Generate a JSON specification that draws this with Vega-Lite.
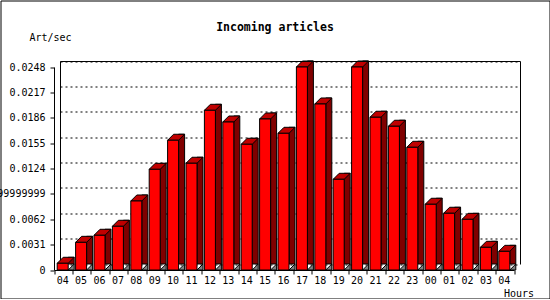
{
  "$schema": "https://vega.github.io/schema/vega-lite/v6.json",
  "width": 549,
  "height": 298,
  "autosize": {"type": "none"},
  "padding": 0.5,
  "background": "white",
  "title": {"text": "Incoming articles", "anchor": "middle", "frame": "group", "offset": 0, "baseline": "alphabetic", "dy": 42, "font": "DejaVu Sans Mono", "fontSize": 11.5, "fontWeight": "bold", "color": "black"},
  "config": {
    "view": {"stroke": "black", "strokeWidth": 1, "fill": "white"},
    "axis": {"labelFont": "DejaVu Sans Mono", "labelFontSize": 10, "labelColor": "black", "titleFont": "DejaVu Sans Mono", "titleFontSize": 10, "titleFontWeight": "normal", "titleColor": "black", "domainColor": "black", "tickColor": "black", "gridColor": "black", "domainWidth": 1, "tickWidth": 1}
  },
  "data": {"values": [
    {"hour": "04", "rate": 0.00082},
    {"hour": "05", "rate": 0.00338},
    {"hour": "06", "rate": 0.00424},
    {"hour": "07", "rate": 0.00534},
    {"hour": "08", "rate": 0.00843},
    {"hour": "09", "rate": 0.0123},
    {"hour": "10", "rate": 0.01585},
    {"hour": "11", "rate": 0.01304},
    {"hour": "12", "rate": 0.01951},
    {"hour": "13", "rate": 0.01808},
    {"hour": "14", "rate": 0.01536},
    {"hour": "15", "rate": 0.01845},
    {"hour": "16", "rate": 0.0167},
    {"hour": "17", "rate": 0.0248},
    {"hour": "18", "rate": 0.02028},
    {"hour": "19", "rate": 0.01108},
    {"hour": "20", "rate": 0.0248},
    {"hour": "21", "rate": 0.01866},
    {"hour": "22", "rate": 0.01756},
    {"hour": "23", "rate": 0.01499},
    {"hour": "00", "rate": 0.00803},
    {"hour": "01", "rate": 0.00693},
    {"hour": "02", "rate": 0.00619},
    {"hour": "03", "rate": 0.00277},
    {"hour": "04 ", "rate": 0.00228}
  ]},
  "resolve": {"axis": {"x": "independent", "y": "independent"}},
  "layer": [
    {
      "mark": {"type": "bar", "width": 6, "xOffset": 2, "y2Offset": 6, "fill": "#800000", "stroke": "black", "strokeWidth": 1, "opacity": 1},
      "encoding": {
        "x": {"field": "hour", "type": "nominal", "sort": null,
          "scale": {"type": "band", "range": [59.5, 519.5], "paddingInner": 0, "paddingOuter": 0},
          "axis": {"orient": "bottom", "offset": -22.5, "translate": -5.5, "tickBand": "extent", "tickSize": 4, "labelPadding": 9.5, "labelBaseline": "alphabetic", "labelAngle": 0, "labelOverlap": false, "labelFlush": false, "labelOffset": -1, "labelExpr": "trim(datum.label)", "title": "Hours", "titleX": 524, "titleY": 26.5, "titleAlign": "center", "titleBaseline": "alphabetic", "titleAnchor": "start", "zindex": 1, "domain": true, "grid": false}},
        "y": {"field": "rate", "type": "quantitative",
          "scale": {"domain": [0, 0.0248], "range": [263.5, 60.5], "nice": false, "zero": true},
          "axis": {"orient": "left", "offset": -59.5, "values": [0, 0.0031, 0.0062, 0.0093, 0.0124, 0.0155, 0.0186, 0.0217, 0.0248], "grid": true, "gridDash": [2, 3], "gridColor": "black", "gridOpacity": 1, "ticks": false, "labels": false, "domain": true, "title": null, "zindex": 0}}
      }
    },
    {
      "mark": {"type": "point", "shape": "M-1,6L5,0L5,6Z", "size": 4, "filled": true, "fill": "#808080", "stroke": "black", "strokeWidth": 1, "opacity": 1},
      "encoding": {
        "x": {"field": "hour", "type": "nominal", "sort": null, "axis": null},
        "y": {"datum": 0, "type": "quantitative", "axis": null}
      }
    },
    {
      "mark": {"type": "point", "shape": "M-12,6L-1,6L5,0L-6,0Z", "size": 4, "filled": true, "fill": "#c00000", "stroke": "black", "strokeWidth": 1, "opacity": 1},
      "encoding": {
        "x": {"field": "hour", "type": "nominal", "sort": null,
          "axis": {"orient": "top", "offset": -60.5, "domain": true, "ticks": false, "labels": false, "title": null, "grid": false, "zindex": 1}},
        "y": {"field": "rate", "type": "quantitative",
          "axis": {"orient": "right", "offset": -29.5, "domain": true, "ticks": false, "labels": false, "grid": false, "title": null, "zindex": 1}}
      }
    },
    {
      "mark": {"type": "bar", "width": 11, "xOffset": -6.5, "yOffset": 6, "y2Offset": 6, "fill": "#ff0000", "stroke": "black", "strokeWidth": 1, "opacity": 1},
      "encoding": {
        "x": {"field": "hour", "type": "nominal", "sort": null, "axis": null},
        "y": {"field": "rate", "type": "quantitative",
          "axis": {"orient": "left", "offset": -47.5, "translate": 6.5, "values": [0, 0.0031, 0.0062, 0.0093, 0.0124, 0.0155, 0.0186, 0.0217, 0.0248], "labelExpr": "datum.value == 0.0093 ? '0.0092999999999999' : format(datum.value, '~g')", "tickSize": 4, "labelPadding": 5, "labelFlush": false, "labelOverlap": false, "domain": true, "grid": false, "title": "Art/sec", "titleAngle": 0, "titleX": -4, "titleY": 34, "titleAlign": "center", "titleBaseline": "alphabetic", "titleAnchor": "start", "zindex": 1}}
      }
    }
  ]
}
